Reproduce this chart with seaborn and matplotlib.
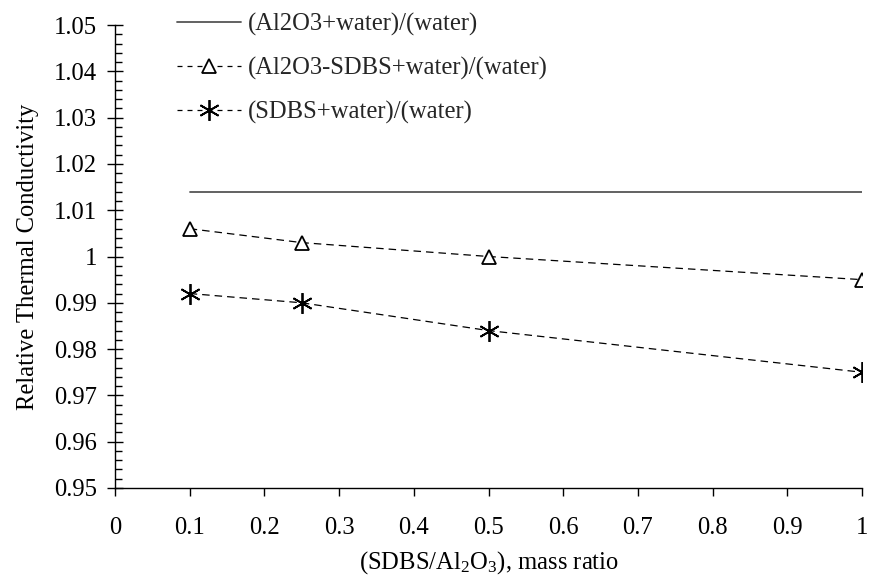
import matplotlib
matplotlib.use("Agg")
import matplotlib.pyplot as plt
import seaborn as sns
import pandas as pd
from matplotlib.ticker import MultipleLocator, FixedLocator
from matplotlib.lines import Line2D

# ---- data ----
ratio = [0.1, 0.25, 0.5, 1.0]
al2o3_water = [1.014, 1.014, 1.014, 1.014]
al2o3_sdbs_water = [1.006, 1.003, 1.000, 0.995]
sdbs_water = [0.992, 0.990, 0.984, 0.975]
labels = ["(Al2O3+water)/(water)", "(Al2O3-SDBS+water)/(water)", "(SDBS+water)/(water)"]
x_ticks = [0, 0.1, 0.2, 0.3, 0.4, 0.5, 0.6, 0.7, 0.8, 0.9, 1]
y_ticks = [0.95, 0.96, 0.97, 0.98, 0.99, 1.0, 1.01, 1.02, 1.03, 1.04, 1.05]
y_tick_labels = ["0.95", "0.96", "0.97", "0.98", "0.99", "1", "1.01", "1.02", "1.03", "1.04", "1.05"]
x_tick_labels = ["0", "0.1", "0.2", "0.3", "0.4", "0.5", "0.6", "0.7", "0.8", "0.9", "1"]

sns.set_theme(style="ticks")
plt.rcParams["font.family"] = ["Liberation Serif", "DejaVu Serif"]
plt.rcParams["mathtext.fontset"] = "custom"
plt.rcParams["mathtext.rm"] = "Liberation Serif"
plt.rcParams["mathtext.it"] = "Liberation Serif"
plt.rcParams["mathtext.default"] = "regular"

FS = 17.7

df = pd.DataFrame({
    "ratio": ratio * 3,
    "value": al2o3_water + al2o3_sdbs_water + sdbs_water,
    "series": [labels[0]] * 4 + [labels[1]] * 4 + [labels[2]] * 4,
})

fig = plt.figure(figsize=(8.69, 5.81), dpi=100)
ax = fig.add_axes([115 / 869, 1 - 488 / 581, (862 - 115) / 869, (488 - 25) / 581])

star = (6, 2, 0)
sns.lineplot(data=df[df.series == labels[0]], x="ratio", y="value", ax=ax,
             color="#555555", linewidth=1.3, legend=False)
sns.lineplot(data=df[df.series == labels[1]], x="ratio", y="value", ax=ax,
             color="black", linewidth=0.9, linestyle=(0, (6, 4)), marker="^",
             markersize=10, markerfacecolor="white", markeredgecolor="black",
             markeredgewidth=1.3, legend=False)
sns.lineplot(data=df[df.series == labels[2]], x="ratio", y="value", ax=ax,
             color="black", linewidth=0.9, linestyle=(0, (6, 4)), marker=star,
             markersize=15, markeredgecolor="black", markeredgewidth=1.3,
             legend=False)

ax.set_xlim(0, 1)
ax.set_ylim(0.95, 1.05)
ax.xaxis.set_major_locator(FixedLocator(x_ticks))
ax.set_xticklabels(x_tick_labels)
ax.yaxis.set_major_locator(FixedLocator(y_ticks))
ax.set_yticklabels(y_tick_labels)
ax.yaxis.set_minor_locator(MultipleLocator(0.002))

for s in ["top", "right"]:
    ax.spines[s].set_visible(False)
for s in ["left", "bottom"]:
    ax.spines[s].set_color("black")
    ax.spines[s].set_linewidth(1.0)

ax.tick_params(axis="x", which="major", direction="out", length=6, width=1,
               pad=15, labelsize=FS, colors="black")
ax.tick_params(axis="y", which="major", direction="inout", length=12, width=1,
               pad=7, labelsize=FS, colors="black")
ax.tick_params(axis="y", which="minor", direction="in", length=5, width=1,
               colors="black")

ax.set_xlabel("(SDBS/Al$_2$O$_3$), mass ratio", fontsize=FS, color="black", labelpad=7)
ax.set_ylabel("Relative Thermal Conductivity", fontsize=FS, color="black", labelpad=11)

handles = [
    Line2D([], [], color="#555555", linewidth=1.3),
    Line2D([], [], color="black", linewidth=0.9, linestyle=(0, (4, 4)), marker="^",
           markersize=10, markerfacecolor="white", markeredgecolor="black",
           markeredgewidth=1.3),
    Line2D([], [], color="black", linewidth=0.9, linestyle=(0, (4, 4)), marker=star,
           markersize=15, markeredgecolor="black", markeredgewidth=1.3),
]
fig.legend(handles, labels, loc="upper left", bbox_to_anchor=(167 / 869, 1 - 3 / 581),
           frameon=False, fontsize=FS, handlelength=2.6, handletextpad=0.3,
           labelspacing=0.85, borderaxespad=0, numpoints=1)

fig.savefig("out.png", dpi=100)
